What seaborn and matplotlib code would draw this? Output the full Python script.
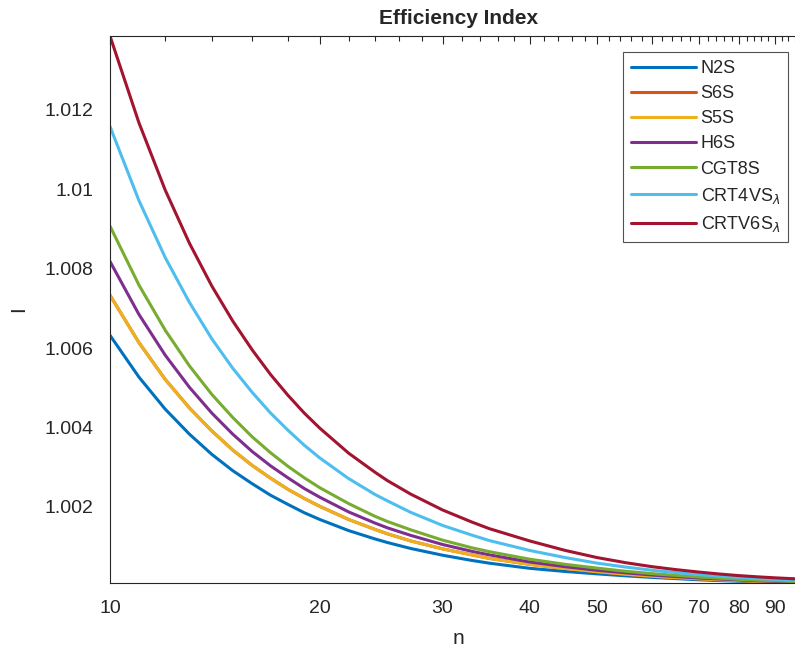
import numpy as np
import pandas as pd
import matplotlib
matplotlib.use('Agg')
import matplotlib.pyplot as plt
import matplotlib.ticker as mticker
import seaborn as sns

# sample sizes
n_values = [10, 11, 12, 13, 14, 15, 16, 17, 18, 19, 20, 22, 24, 25, 27, 30,
            33, 35, 40, 45, 50, 55, 60, 65, 70, 75, 80, 85, 90, 95, 100]

# efficiency index minus 1, in units of 1e-3
n2s = [6.32, 5.27, 4.46, 3.83, 3.32, 2.91, 2.58, 2.29, 2.06, 1.85, 1.68, 1.40, 1.19, 1.10, 0.95, 0.78,
       0.65, 0.58, 0.45, 0.37, 0.31, 0.26, 0.22, 0.19, 0.16, 0.14, 0.125, 0.11, 0.10, 0.09, 0.08]
s6s = [7.33, 6.14, 5.21, 4.49, 3.91, 3.43, 3.04, 2.72, 2.44, 2.21, 2.01, 1.68, 1.43, 1.32, 1.14, 0.94,
       0.79, 0.70, 0.55, 0.445, 0.365, 0.30, 0.25, 0.215, 0.185, 0.16, 0.14, 0.12, 0.11, 0.10, 0.09]
s5s = [7.33, 6.14, 5.21, 4.49, 3.91, 3.43, 3.04, 2.72, 2.44, 2.21, 2.01, 1.68, 1.43, 1.32, 1.14, 0.94,
       0.79, 0.70, 0.55, 0.445, 0.365, 0.30, 0.25, 0.215, 0.185, 0.16, 0.14, 0.12, 0.11, 0.10, 0.09]
h6s = [8.18, 6.85, 5.82, 5.01, 4.36, 3.83, 3.39, 3.03, 2.73, 2.46, 2.24, 1.87, 1.59, 1.47, 1.28, 1.05,
       0.88, 0.79, 0.61, 0.49, 0.40, 0.335, 0.28, 0.24, 0.205, 0.18, 0.155, 0.135, 0.12, 0.11, 0.10]
cgt8s = [9.07, 7.59, 6.45, 5.55, 4.83, 4.25, 3.76, 3.36, 3.02, 2.73, 2.48, 2.08, 1.76, 1.63, 1.42, 1.16,
         0.97, 0.87, 0.68, 0.55, 0.455, 0.375, 0.315, 0.27, 0.23, 0.20, 0.17, 0.15, 0.135, 0.12, 0.11]
crt4vs = [11.58, 9.72, 8.28, 7.15, 6.23, 5.49, 4.88, 4.36, 3.93, 3.55, 3.23, 2.71, 2.31, 2.15, 1.86, 1.53,
          1.29, 1.15, 0.90, 0.72, 0.58, 0.48, 0.40, 0.34, 0.29, 0.25, 0.22, 0.19, 0.17, 0.15, 0.135]
crtv6s = [13.86, 11.68, 9.98, 8.64, 7.56, 6.68, 5.95, 5.33, 4.81, 4.36, 3.98, 3.35, 2.87, 2.66, 2.32, 1.92,
          1.62, 1.45, 1.14, 0.90, 0.72, 0.59, 0.49, 0.415, 0.355, 0.305, 0.265, 0.235, 0.21, 0.19, 0.17]

methods = ['N2S', 'S6S', 'S5S', 'H6S', 'CGT8S', 'CRT4VS$_{\\lambda}$', 'CRTV6S$_{\\lambda}$']
series = [n2s, s6s, s5s, h6s, cgt8s, crt4vs, crtv6s]
colors = ['#0072BD', '#D95319', '#EDB120', '#7E2F8E', '#77AC30', '#4DBEEE', '#A2142F']

# long form table for seaborn
rows = []
for m, vals in zip(methods, series):
    for n, v in zip(n_values, vals):
        rows.append({'n': n, 'I': 1 + v / 1000.0, 'method': m})
df = pd.DataFrame(rows)

sns.set_theme(style='white')
plt.rcParams['font.family'] = ['Liberation Sans', 'DejaVu Sans']
plt.rcParams['mathtext.fontset'] = 'dejavusans'

fig = plt.figure(figsize=(7.95, 6.49), dpi=100)
ax = fig.add_axes([110 / 795, 1 - 583 / 649, 697 / 795, 547 / 649])

sns.lineplot(data=df, x='n', y='I', hue='method', hue_order=methods,
             palette=colors, linewidth=2.2, legend=False, ax=ax)

ax.set_xscale('log')
ax.set_xlim(10, 100)
ax.set_ylim(1.00008, 1.01386)

# ticks in MATLAB style
ax.xaxis.set_major_locator(mticker.FixedLocator([10, 20, 30, 40, 50, 60, 70, 80, 90]))
ax.xaxis.set_major_formatter(mticker.FixedFormatter(['10', '20', '30', '40', '50', '60', '70', '80', '90']))
ax.xaxis.set_minor_locator(mticker.FixedLocator([k for k in range(12, 100, 2) if k % 10 != 0]))
ax.xaxis.set_minor_formatter(mticker.NullFormatter())
ax.yaxis.set_major_locator(mticker.FixedLocator([1.002, 1.004, 1.006, 1.008, 1.01, 1.012]))
ax.yaxis.set_major_formatter(mticker.FuncFormatter(lambda v, p: '%g' % v))
ax.yaxis.set_minor_locator(mticker.MultipleLocator(0.0005))

ax.tick_params(which='both', direction='in', top=True, right=True, colors='#262626',
               labelsize=14, width=0.8)
ax.tick_params(which='major', length=6)
ax.tick_params(which='minor', length=3.5)
ax.tick_params(axis='y', pad=12)
ax.tick_params(axis='x', pad=12)
for s in ax.spines.values():
    s.set_color('#262626')
    s.set_linewidth(0.8)

ax.set_xlabel('n', fontsize=15, color='#262626', labelpad=9)
ax.set_ylabel('I', fontsize=15, color='#262626', labelpad=12)
ax.set_title('Efficiency Index', fontsize=15, fontweight='bold', pad=9)

leg = ax.legend(ax.get_lines()[:len(methods)], methods, loc='upper right',
                bbox_to_anchor=(788 / 795, 1 - 52 / 649), bbox_transform=fig.transFigure,
                borderaxespad=0, fontsize=13, handlelength=3.6, handletextpad=0.25,
                labelspacing=0.45, frameon=True, fancybox=False, borderpad=0.45)
leg.get_frame().set_edgecolor('#262626')
leg.get_frame().set_linewidth(0.8)

plt.savefig('out.png', dpi=100)
plt.close()
